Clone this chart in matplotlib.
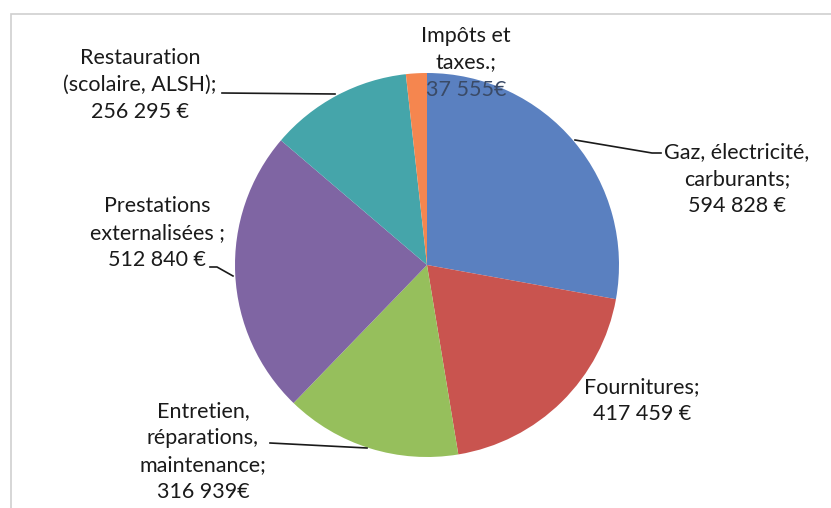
import matplotlib.pyplot as plt
from matplotlib.patches import Rectangle

plt.rcParams['font.family'] = ['Lato', 'DejaVu Sans']

# data
names = [["Gaz, électricité,", "carburants;"],
         ["Fournitures;"],
         ["Entretien,", "réparations,", "maintenance;"],
         ["Prestations", "externalisées ;"],
         ["Restauration", "(scolaire, ALSH);"],
         ["Impôts et", "taxes.;"]]
value_labels = ["594 828 €", "417 459 €", "316 939€", "512 840 €", "256 295 €", "37 555€"]
values = [594828, 417459, 316939, 512840, 256295, 37555]
colors = ['#5a80c0', '#c9544f', '#96bf5c', '#7f65a3', '#45a5aa', '#f5864f']

W, H = 831, 508
fig = plt.figure(figsize=(W / 100, H / 100), dpi=100)
ax = fig.add_axes([0, 0, 1, 1])

def Y(y):  # image row -> data y
    return H - y

# chart frame
ax.add_patch(Rectangle((11, -5), W, Y(14) + 5, fill=False, ec='#cfcfcf', lw=1.2))

ax.pie(values, colors=colors, startangle=90, counterclock=False,
       center=(427, Y(265)), radius=192, wedgeprops=dict(linewidth=0))
ax.set_xlim(0, W)
ax.set_ylim(0, H)
ax.set_aspect('equal')
ax.axis('off')

# label placement (centre of first line, image coords); last line is the amount
pos = [(737, 150), (642, 385), (203, 409), (157, 204), (140, 56), (466, 34)]
lh = 27
for name, val, (x, y) in zip(names, value_labels, pos):
    lines = name + [val]
    for i, s in enumerate(lines):
        col = '#1a1a1a'
        if i == len(lines) - 1 and name[0].startswith("Impôts"):
            col = '#3a4a66'
        ax.text(x, Y(y + i * lh), s, ha='center', va='center_baseline',
                fontsize=15.5, color=col)

leaders = [[(575, 140), (652, 153), (661, 153)],
           [(210, 267), (217, 267), (233, 276)],
           [(270, 443), (367, 448)],
           [(222, 93), (335, 94)]]
for pts in leaders:
    ax.plot([p[0] for p in pts], [Y(p[1]) for p in pts], color='#1a1a1a', lw=1.2)

fig.savefig('out.png', dpi=100)
